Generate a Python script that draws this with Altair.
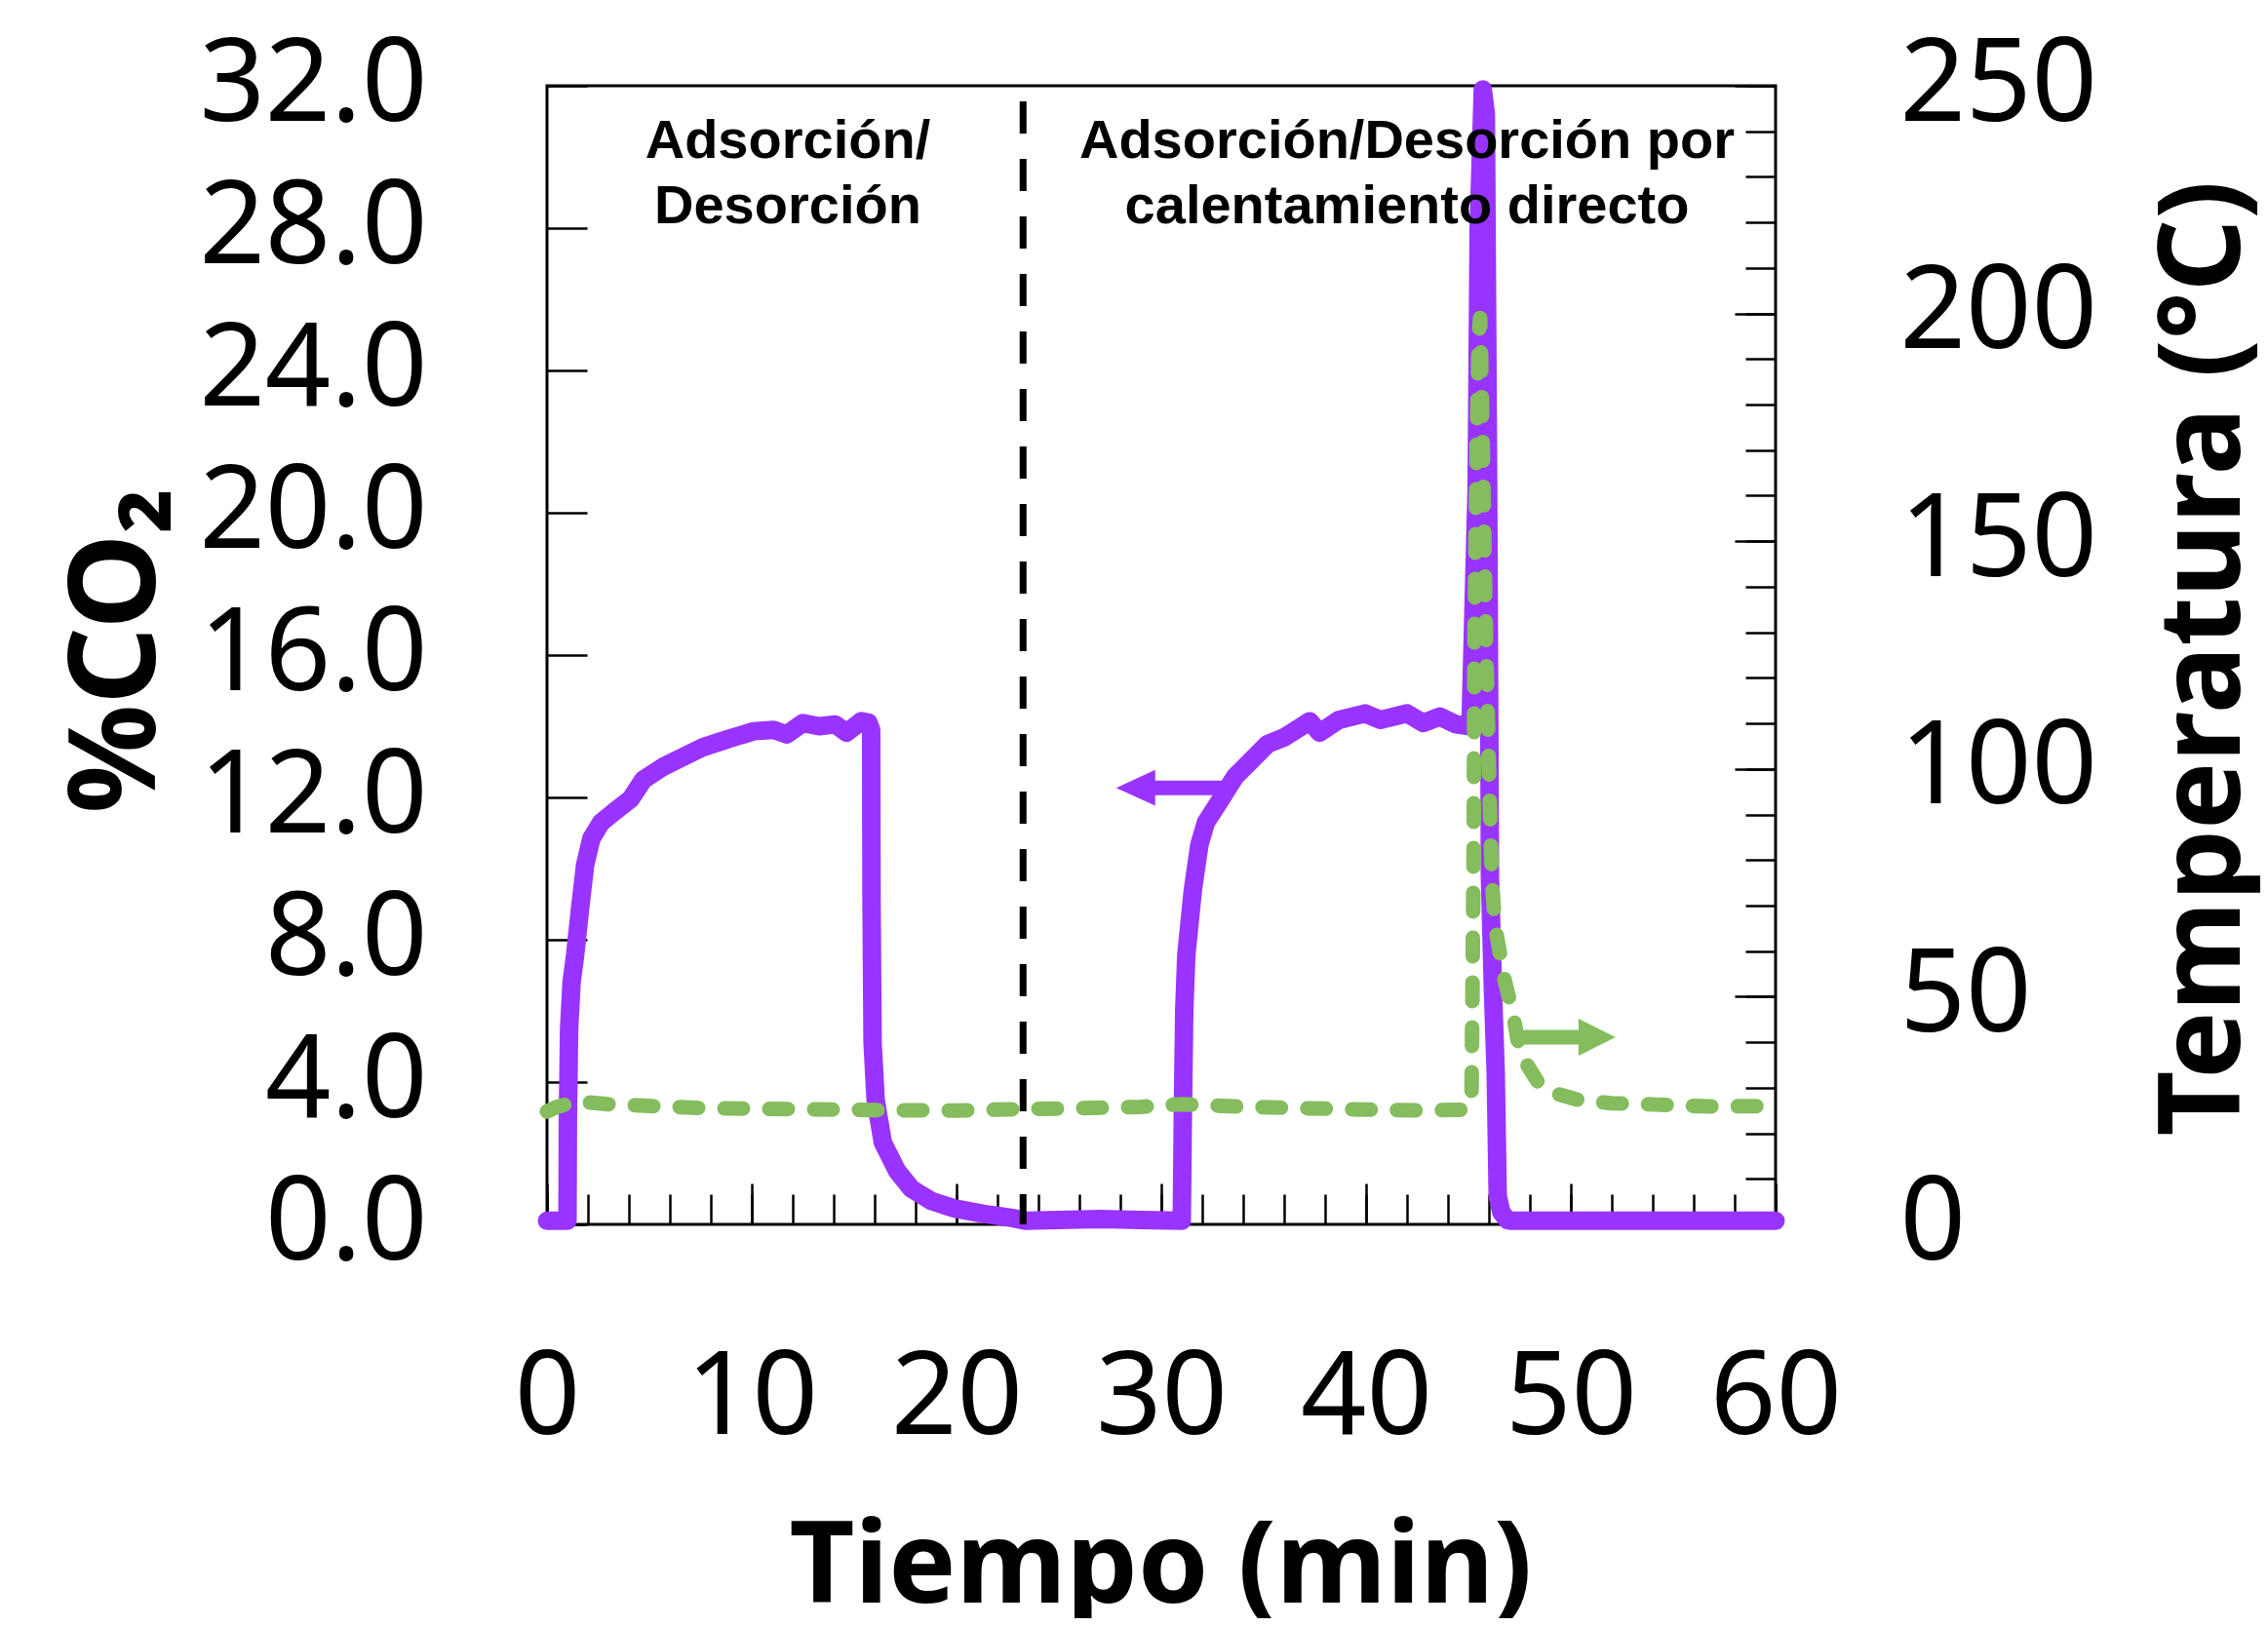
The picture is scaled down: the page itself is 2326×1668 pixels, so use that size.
import altair as alt
import pandas as pd

# ---------------- data ----------------
time_co2 = [0, 1.0, 1.02, 1.08, 1.2, 1.38, 1.62, 1.86, 2.17, 2.65, 3.29, 4.08, 4.71, 5.67,
            6.62, 7.57, 8.84, 10.1, 11.06, 11.7, 12.49, 13.29, 14.08, 14.63, 15.35, 15.7,
            15.83, 15.85, 15.9, 16.05, 16.4, 17.1, 17.8, 18.8, 19.9, 21.3, 22.7, 23.4, 25.0,
            27.0, 29.0, 31.0, 31.05, 31.12, 31.22, 31.54, 31.86, 32.18, 32.8, 33.6, 34.4,
            35.19, 35.98, 37.25, 37.73, 38.68, 39.95, 40.7, 42.0, 42.8, 43.6, 44.4, 45.1,
            45.4, 45.5, 45.7, 45.85, 45.95, 46.02, 46.05, 46.2, 46.33, 46.43, 46.6, 46.9,
            47.1, 60.0]
co2 = [0.1, 0.1, 3.0, 5.5, 6.8, 7.6, 8.9, 10.1, 10.85, 11.3, 11.6, 11.95, 12.5, 12.86,
       13.13, 13.4, 13.64, 13.86, 13.9, 13.77, 14.09, 14.0, 14.05, 13.82, 14.14, 14.1,
       13.9, 9.0, 5.1, 3.5, 2.3, 1.5, 1.0, 0.65, 0.45, 0.3, 0.18, 0.1, 0.12,
       0.15, 0.12, 0.1, 3.0, 6.0, 7.56, 9.39, 10.67, 11.3, 11.85, 12.58, 13.04,
       13.5, 13.68, 14.14, 13.82, 14.18, 14.36, 14.18, 14.36, 14.09, 14.27, 14.05, 14.0,
       20.7, 28.0, 31.9, 31.2, 22.0, 14.0, 9.75, 6.5, 4.3, 0.8, 0.35, 0.12,
       0.1, 0.1]

time_temp = [0, 0.5, 1.4, 3.0, 5.0, 8.0, 12.0, 16.0, 20.0, 23.0, 26.0, 29.0, 31.0, 33.0,
             36.0, 40.0, 43.0, 44.9, 45.15, 45.25, 45.3, 45.4, 45.5, 45.57, 45.62, 45.72,
             45.85, 46.0, 46.14, 46.3, 46.78, 47.18, 47.4, 47.9, 48.5, 49.3, 50.4, 52.0,
             54.2, 56.8, 60.0]
temp = [24.8, 25.8, 27.0, 26.4, 26.0, 25.5, 25.3, 25.1, 25.0, 25.3, 25.5, 25.8, 26.4, 26.0,
        25.6, 25.2, 25.0, 25.2, 27.0, 80.0, 130.0, 170.0, 195.0, 199.0, 190.0, 165.0,
        130.0, 100.0, 76.0, 65.5, 53.4, 46.2, 40.5, 34.8, 30.5, 28.7, 27.3, 26.6,
        26.3, 25.9, 26.0]

x_labels = [0, 10, 20, 30, 40, 50, 60]
x_minor = list(range(0, 61, 2))
co2_ticks = [0, 4, 8, 12, 16, 20, 24, 28, 32]
temp_labels = [0, 50, 100, 150, 200, 250]
temp_minor = list(range(0, 251, 10))

divider_x = [23.25]
divider_top = [31.56]
divider_bottom = [0]

notes_x = [11.76, 42.0]
notes_y = [30.45, 30.45]
notes_text = ["Adsorción/\nDesorción", "Adsorción/Desorción por\ncalentamiento directo"]

co2_arrow_tail = [33.05]
co2_arrow_base = [29.3]
co2_arrow_head = [28.75]
co2_arrow_y = [12.27]

temp_arrow_tail = [47.57]
temp_arrow_base = [51.0]
temp_arrow_head = [51.28]
temp_arrow_y = [41.1]

# ---------------- styling ----------------
PURPLE = "#9933FF"
GREEN = "#85BC5D"
FONT = "Noto Sans"
W, H = 1260, 1168

co2_df = pd.DataFrame({"t": time_co2, "v": co2, "o": list(range(len(co2)))})
temp_df = pd.DataFrame({"t": time_temp, "v": temp, "o": list(range(len(temp)))})

xs = alt.Scale(domain=[0, 60], nice=False, zero=False)
ys_c = alt.Scale(domain=[0, 32], nice=False, zero=False)
ys_t = alt.Scale(domain=[0, 250], nice=False, zero=False)

lab = dict(labelFont=FONT, labelFontSize=118, labelColor="black", labelFlush=False,
           labelOverlap=False, labelBound=False, labelLimit=0, ticks=False, domain=False,
           grid=False)
ttl = dict(titleFont=FONT, titleFontWeight="bold", titleColor="black",
           titleBaseline="alphabetic", titleAlign="center", titleLimit=0)

purple = alt.Chart(co2_df).mark_line(
    color=PURPLE, strokeWidth=19, strokeJoin="round", strokeCap="round"
).encode(
    x=alt.X("t:Q", scale=xs, axis=alt.Axis(
        orient="bottom", values=x_labels, labelPadding=121, title="Tiempo (min)",
        titleFontSize=116, titleX=629, titleY=387, **lab, **ttl)),
    y=alt.Y("v:Q", scale=ys_c, axis=alt.Axis(
        orient="left", values=co2_ticks, format=".1f", labelPadding=123, title="%CO₂",
        titleFontSize=124, titleAngle=270, titleX=-403, titleY=579, **lab, **ttl)),
    order="o:Q",
)

green = alt.Chart(temp_df).mark_line(
    color=GREEN, strokeWidth=15, strokeDash=[19, 27], strokeCap="round", strokeJoin="round"
).encode(
    x=alt.X("t:Q", scale=xs, axis=None),
    y=alt.Y("v:Q", scale=ys_t, axis=alt.Axis(
        orient="right", values=temp_labels, format="d", labelPadding=127,
        title="Temperatura (°C)", titleFontSize=116, titleAngle=270, titleX=475, titleY=587,
        **lab, **ttl)),
    order="o:Q",
)

divider = alt.Chart(pd.DataFrame({"x": divider_x, "y": divider_top, "y2": divider_bottom})).mark_rule(
    color="black", strokeWidth=7, strokeDash=[33, 26]
).encode(
    x=alt.X("x:Q", scale=xs, axis=None),
    y=alt.Y("y:Q", scale=ys_c, axis=None),
    y2="y2:Q",
)

notes = alt.Chart(pd.DataFrame({"x": notes_x, "y": notes_y, "s": notes_text})).mark_text(
    font="Liberation Sans", fontSize=56, fontWeight="bold", lineBreak="\n", lineHeight=67,
    align="center", baseline="middle", color="black"
).encode(
    x=alt.X("x:Q", scale=xs, axis=None),
    y=alt.Y("y:Q", scale=ys_c, axis=None),
    text="s:N",
)

c_shaft = alt.Chart(pd.DataFrame({"x": co2_arrow_tail, "x2": co2_arrow_base, "y": co2_arrow_y})).mark_rule(
    color=PURPLE, strokeWidth=15
).encode(
    x=alt.X("x:Q", scale=xs, axis=None), x2="x2:Q",
    y=alt.Y("y:Q", scale=ys_c, axis=None),
)
c_head = alt.Chart(pd.DataFrame({"x": co2_arrow_head, "y": co2_arrow_y})).mark_point(
    shape="M-1,0L1,-0.92L1,0.92Z", filled=True, size=1600, opacity=1, color=PURPLE, strokeWidth=0
).encode(
    x=alt.X("x:Q", scale=xs, axis=None),
    y=alt.Y("y:Q", scale=ys_c, axis=None),
)

t_shaft = alt.Chart(pd.DataFrame({"x": temp_arrow_tail, "x2": temp_arrow_base, "y": temp_arrow_y})).mark_rule(
    color=GREEN, strokeWidth=15
).encode(
    x=alt.X("x:Q", scale=xs, axis=None), x2="x2:Q",
    y=alt.Y("y:Q", scale=ys_t, axis=None),
)
t_head = alt.Chart(pd.DataFrame({"x": temp_arrow_head, "y": temp_arrow_y})).mark_point(
    shape="M1,0L-1,-1L-1,1Z", filled=True, size=1444, opacity=1, color=GREEN, strokeWidth=0
).encode(
    x=alt.X("x:Q", scale=xs, axis=None),
    y=alt.Y("y:Q", scale=ys_t, axis=None),
)

tk = dict(labels=False, domain=False, grid=False, title=None, tickColor="black", tickWidth=2.5)

ticks_a = alt.Chart(co2_df).mark_point(opacity=0).encode(
    x=alt.X("t:Q", scale=xs, axis=alt.Axis(orient="top", offset=-H, values=x_minor, tickSize=31, **tk)),
    y=alt.Y("v:Q", scale=ys_c, axis=alt.Axis(orient="right", offset=-W, values=co2_ticks, tickSize=41, **tk)),
)
ticks_b = alt.Chart(temp_df).mark_point(opacity=0).encode(
    x=alt.X("t:Q", scale=xs, axis=alt.Axis(orient="top", offset=-H, values=x_labels, tickSize=42, **tk)),
    y=alt.Y("v:Q", scale=ys_t, axis=alt.Axis(orient="left", offset=-W, values=temp_minor, tickSize=31, **tk)),
)
ticks_c = alt.Chart(temp_df).mark_point(opacity=0).encode(
    x=alt.X("t:Q", scale=xs, axis=None),
    y=alt.Y("v:Q", scale=ys_t, axis=alt.Axis(orient="left", offset=-W, values=temp_labels, tickSize=42, **tk)),
)

chart = alt.layer(
    ticks_a, ticks_b, ticks_c, purple, divider, notes, c_shaft, c_head, green, t_shaft, t_head
).resolve_scale(
    y="independent"
).resolve_axis(
    x="independent", y="independent"
).properties(
    width=W, height=H,
    padding={"left": 553, "top": 80, "right": 497, "bottom": 404},
    autosize=alt.AutoSizeParams(type="none"),
    background="white",
).configure_view(
    stroke="black", strokeWidth=3
)

chart.save("out.html", embed_options={"renderer": "svg", "actions": False})
